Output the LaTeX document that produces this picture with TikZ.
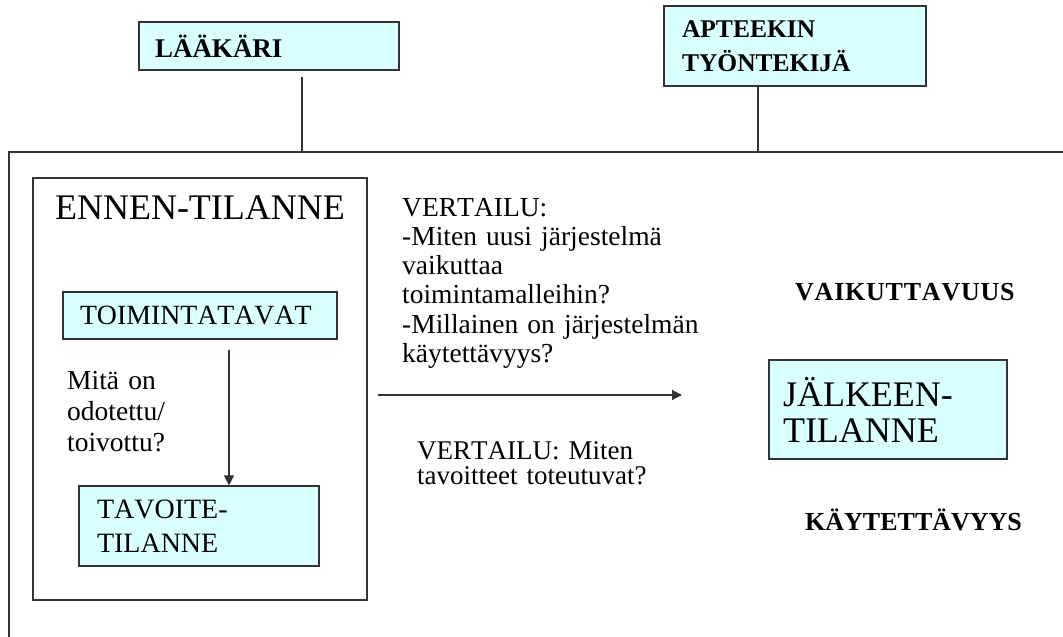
\documentclass[tikz,border=0pt]{standalone}
\usepackage{fontspec}
\setmainfont{Liberation Serif}[Kerning=Off]
\usetikzlibrary{arrows.meta}
\definecolor{boxcyan}{HTML}{D9FFFF}
\definecolor{linegray}{HTML}{333333}
\tikzset{
  box/.style={draw=linegray, fill=boxcyan, line width=1.2pt, rectangle, inner ysep=0pt, align=left},
  plain/.style={inner sep=0pt, align=left, anchor=base west},
  link/.style={draw=linegray, line width=1.2pt},
  arrow/.style={link, -{Triangle[length=10pt,width=10pt]}},
}
\begin{document}
\begin{tikzpicture}[x=1pt,y=-1pt]
% page area
\path[fill=white,use as bounding box] (0,0) rectangle (1063,637);

% actors on top
\node[box, font=\bfseries\fontsize{27}{34}\selectfont, text width=228pt, inner xsep=16pt, minimum height=48pt] (lak) at (269,46) {LÄÄKÄRI};
\node[box, font=\bfseries\fontsize{25.5}{34}\selectfont, text width=226pt, inner xsep=18pt, minimum height=80pt] (apt) at (795,46) {APTEEKIN\\TYÖNTEKIJÄ};

% open frame around the evaluation
\coordinate (frametl) at (9,152);
\coordinate (frametr) at (1063,152);
\coordinate (framebl) at (9,637);
\draw[link] (frametr) -- (frametl) -- (framebl);
\coordinate (lakfoot) at (302,152);
\coordinate (aptfoot) at (758,152);
\draw[link] ([yshift=-6pt]lak.south -| lakfoot) -- (lakfoot);
\draw[link] (apt.south -| aptfoot) -- (aptfoot);

% situation before
\node[draw=linegray, line width=1.2pt, minimum width=334pt, minimum height=422pt, inner sep=0pt] (ennen) at (200,389) {};
\node[inner sep=0pt, anchor=base, font=\fontsize{36}{40}\selectfont] (ennentitle) at (200,219) {ENNEN-TILANNE};
\node[box, font=\fontsize{27.8}{30}\selectfont, text width=240pt, inner xsep=17pt, minimum height=47pt] (toim) at (200,315.5) {TOIMINTATAVAT};
\node[plain, font=\fontsize{27.5}{31}\selectfont, text width=130pt] (mita) at (67,389) {Mitä on\\odotettu/\\toivottu?};
\node[box, font=\fontsize{28}{34}\selectfont, text width=204pt, inner xsep=18pt, minimum height=80pt] (tav) at (199,526) {TAVOITE-\\TILANNE};
\coordinate (downx) at (229,0);
\draw[arrow] ([yshift=-10pt]toim.south -| downx) -- (tav.north -| downx);

% comparison questions
\node[plain, font=\fontsize{27.5}{29.3}\selectfont, text width=340pt] (q1) at (402,216) {VERTAILU:\\-Miten uusi järjestelmä\\vaikuttaa\\toimintamalleihin?\\-Millainen on järjestelmän\\käytettävyys?};
\coordinate (cmpend) at (682,395);
\draw[arrow] ([xshift=10pt]ennen.east |- cmpend) -- (cmpend);
\node[plain, font=\fontsize{27}{25}\selectfont, text width=280pt] (q2) at (417,459.5) {VERTAILU: Miten\\tavoitteet toteutuvat?};

% situation after
\node[plain, font=\bfseries\fontsize{26}{28}\selectfont\addfontfeatures{LetterSpace=3}] (vaik) at (795,300.5) {VAIKUTTAVUUS};
\node[box, font=\fontsize{36}{36}\selectfont, text width=210pt, inner xsep=14pt, minimum height=99pt] (jalk) at (888,409.5) {JÄLKEEN-\\TILANNE};
\node[plain, font=\bfseries\fontsize{26}{28}\selectfont] (kayt) at (805,530) {KÄYTETTÄVYYS};
\end{tikzpicture}
\end{document}
